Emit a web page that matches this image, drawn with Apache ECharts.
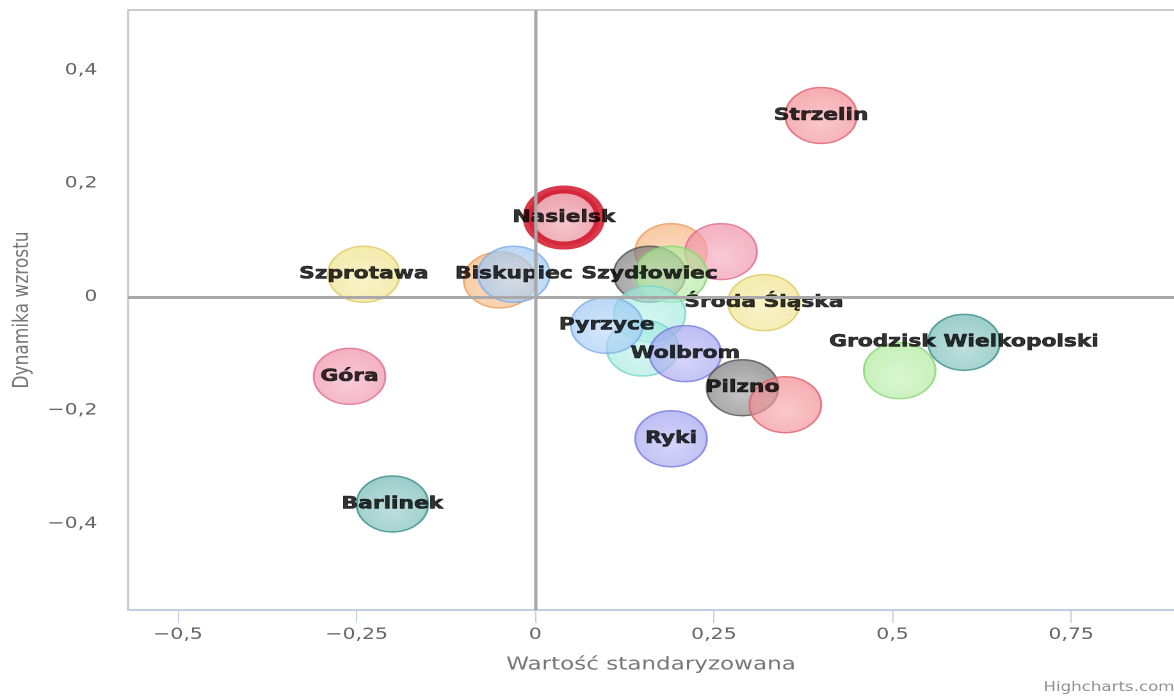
<!DOCTYPE html>
<html>
<head>
<meta charset="utf-8">
<script src="https://cdn.jsdelivr.net/npm/echarts@6/dist/echarts.min.js"></script>
<style>
html,body{margin:0;padding:0;background:#fff;overflow:hidden;}
#wrap{width:1174px;height:699px;overflow:hidden;position:relative;}
#c{width:917px;height:699px;transform:scaleX(1.2803);transform-origin:0 0;}
</style>
</head>
<body>
<div id="wrap"><div id="c"></div></div>
<script>
// ---- data ----
const names = ['Strzelin','Nasielsk','Szprotawa','','Biskupiec','','','Szydłowiec','','Środa Śląska',
  '','','Pyrzyce','Wolbrom','Pilzno','','Ryki','Barlinek','Góra','Grodzisk Wielkopolski',''];
const xVals = [0.40, 0.04, -0.24, -0.05, -0.03, 0.19, 0.26, 0.16, 0.19, 0.32,
  0.16, 0.15, 0.10, 0.21, 0.29, 0.35, 0.19, -0.20, -0.26, 0.60, 0.51];
const yVals = [0.32, 0.14, 0.04, 0.03, 0.04, 0.08, 0.08, 0.04, 0.04, -0.01,
  -0.03, -0.09, -0.05, -0.10, -0.16, -0.19, -0.25, -0.365, -0.14, -0.08, -0.13];
const colorKeys = ['red','nasielsk','yellow','orange','blue','orange','pink','grey','green','yellow',
  'cyan','cyan','blue','purple','grey','red','purple','teal','pink','teal','green'];
const xTicks = [-0.5, -0.25, 0, 0.25, 0.5, 0.75];
const yTicks = [-0.4, -0.2, 0, 0.2, 0.4];

// ---- styles ----
const palette = {
  red:      {base:[240,128,136], light:[247,172,176], border:'#e0606c'},
  pink:     {base:[238,134,160], light:[245,174,194], border:'#de6e8e'},
  yellow:   {base:[238,224,128], light:[245,236,172], border:'#dccb66'},
  blue:     {base:[148,194,242], light:[190,218,250], border:'#7cace6'},
  orange:   {base:[245,174,114], light:[249,202,160], border:'#ec9e5c'},
  grey:     {base:[108,108,108], light:[165,165,165], border:'#505050'},
  green:    {base:[166,232,144], light:[198,242,186], border:'#84d672'},
  cyan:     {base:[152,230,220], light:[192,242,236], border:'#78d6ca'},
  purple:   {base:[154,154,238], light:[190,190,247], border:'#7b7bde'},
  teal:     {base:[102,178,174], light:[155,207,203], border:'#358c86'},
  nasielsk: {base:[222,100,118], light:[240,168,178], border:'#d0061c'}
};
function rgba(c,a){return 'rgba('+c[0]+','+c[1]+','+c[2]+','+a+')';}

const fmt = v => v === 0 ? '0' : (v < 0 ? '\u2212' : '') + String(Math.abs(v)).replace('.', ',');

const points = xVals.map((x, i) => {
  const p = palette[colorKeys[i]];
  const isN = colorKeys[i] === 'nasielsk';
  return {
    name: names[i],
    value: [x, yVals[i]],
    itemStyle: {
      color: new echarts.graphic.RadialGradient(0.5, 0.6, 0.65, [
        {offset: 0, color: rgba(p.light, 0.82)},
        {offset: 1, color: rgba(p.base, 0.84)}
      ]),
      borderColor: p.border,
      borderWidth: isN ? 8 : 1.5
    },
    label: {show: names[i] !== ''}
  };
});

const chart = echarts.init(document.getElementById('c'), null, {renderer: 'canvas', devicePixelRatio: 2});
chart.setOption({
  animation: false,
  backgroundColor: '#fff',
  grid: {left: 100, right: 0, top: 10, bottom: 89, containLabel: false},
  xAxis: [{
    type: 'value', min: -0.57, max: 0.894,
    position: 'bottom',
    name: 'Wartość standaryzowana', nameLocation: 'middle', nameGap: 46,
    nameTextStyle: {color: '#777', fontSize: 18, fontFamily: 'DejaVu Sans'},
    axisLine: {show: true, onZero: false, lineStyle: {color: '#c0d0e0', width: 2}},
    axisTick: {show: true, length: 13, customValues: xTicks, lineStyle: {color: '#c0d0e0', width: 1}},
    axisLabel: {customValues: xTicks, formatter: fmt, color: '#666', fontSize: 16, fontFamily: 'DejaVu Sans', margin: 17},
    splitLine: {show: false}
  }, {
    type: 'value', min: -0.57, max: 0.894, position: 'top',
    axisLine: {show: true, onZero: false, lineStyle: {color: '#cccccc', width: 2}},
    axisTick: {show: false}, axisLabel: {show: false}, splitLine: {show: false}
  }],
  yAxis: {
    type: 'value', min: -0.552, max: 0.506,
    name: 'Dynamika wzrostu', nameLocation: 'middle', nameGap: 74, nameRotate: 90,
    nameTextStyle: {color: '#777', fontSize: 17, fontFamily: 'DejaVu Sans'},
    axisLine: {show: true, onZero: false, lineStyle: {color: '#c8c8c8', width: 1.6}},
    axisTick: {show: false},
    axisLabel: {customValues: yTicks, formatter: fmt, color: '#666', fontSize: 16, fontFamily: 'DejaVu Sans', margin: 24},
    splitLine: {show: false}
  },
  series: [{
    type: 'scatter', data: [], z: 1, silent: true,
    markLine: {
      silent: true, symbol: 'none', label: {show: false},
      lineStyle: {color: '#a9a9a9', type: 'solid', width: 3},
      data: [
        {xAxis: 0, lineStyle: {color: '#a9a9a9', type: 'solid', width: 2.6}},
        {yAxis: 0, lineStyle: {color: '#a9a9a9', type: 'solid', width: 3}}
      ]
    }
  }, {
    type: 'scatter', z: 3,
    symbol: 'circle', symbolSize: 56,
    data: points,
    label: {
      position: 'inside', formatter: '{b}', color: '#000',
      textBorderWidth: 0.6, textBorderColor: '#000',
      fontSize: 17, fontWeight: 'bold', fontFamily: 'DejaVu Sans'
    },
    labelLayout: {hideOverlap: false}
  }],
  graphic: [{
    type: 'text', left: 815, top: 681,
    style: {text: 'Highcharts.com', fill: '#909090', fontSize: 13, fontFamily: 'DejaVu Sans'}
  }]
});
</script>
</body>
</html>
